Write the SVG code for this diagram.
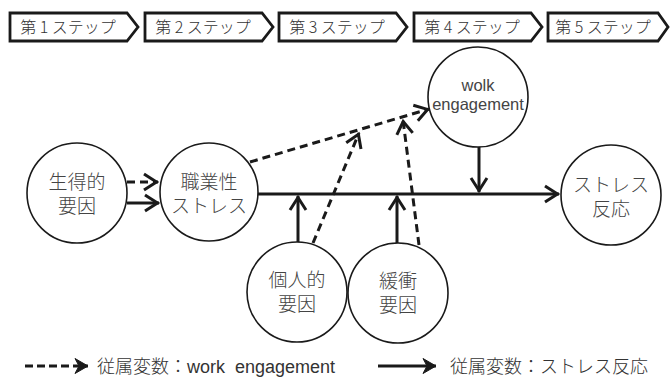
<svg xmlns="http://www.w3.org/2000/svg" width="670" height="381" viewBox="0 0 670 381">
<style>
.step{fill:#fff;stroke:#1a1a1a;stroke-width:2.8;stroke-linejoin:miter}
.stxt{font-family:"Noto Sans CJK JP","Liberation Sans",sans-serif;font-size:16px;font-weight:300;fill:#333;text-anchor:middle}
.node{fill:#fff;stroke:#1a1a1a;stroke-width:1.6}
.ntxt{font-family:"Noto Sans CJK JP","Liberation Sans",sans-serif;font-size:19px;font-weight:300;fill:#444;text-anchor:middle}
.etxt{font-family:"Liberation Sans","Noto Sans",sans-serif;font-size:16.5px;fill:#444;text-anchor:middle}
.solid{fill:none;stroke:#1a1a1a;stroke-width:3}
.dash{fill:none;stroke:#1a1a1a;stroke-width:3;stroke-dasharray:8 5}
.ltxt{font-family:"Noto Sans CJK JP","Liberation Sans",sans-serif;font-size:18px;font-weight:300;fill:#333}
.lat{font-family:"Liberation Sans","Noto Sans",sans-serif}
</style>
<defs>
<marker id="chev" markerUnits="userSpaceOnUse" markerWidth="20" markerHeight="20" viewBox="-16 -10 20 20" refX="0" refY="0" orient="auto">
<path d="M-14,-8 L-1.5,0 L-14,8" fill="none" stroke="#1a1a1a" stroke-width="3" stroke-linejoin="miter"/>
</marker>
<marker id="tri" markerUnits="userSpaceOnUse" markerWidth="20" markerHeight="20" viewBox="-16 -10 20 20" refX="0" refY="0" orient="auto">
<path d="M0,0 L-13,-7.5 L-9,0 L-13,7.5 Z" fill="#1a1a1a" stroke="#1a1a1a" stroke-width="1"/>
</marker>
</defs>

<g id="step1"><polygon class="step" points="10,13 127,13 138,27 127,41 10,41"/><text class="stxt" x="68" y="33">第 1 ステップ</text></g>
<g id="step2"><polygon class="step" points="145,13 262,13 273,27 262,41 145,41"/><text class="stxt" x="203" y="33">第 2 ステップ</text></g>
<g id="step3"><polygon class="step" points="279,13 396,13 407,27 396,41 279,41"/><text class="stxt" x="337" y="33">第 3 ステップ</text></g>
<g id="step4"><polygon class="step" points="414,13 531,13 542,27 531,41 414,41"/><text class="stxt" x="472" y="33">第 4 ステップ</text></g>
<g id="step5"><polygon class="step" points="548,13 658,13 668,27 658,41 548,41"/><text class="stxt" x="603" y="33">第 5 ステップ</text></g>

<g id="connectors">
<line class="dash" x1="127" y1="182" x2="158" y2="182" marker-end="url(#chev)"/>
<line class="solid" x1="127" y1="203" x2="159" y2="203" marker-end="url(#chev)"/>
<line class="solid" x1="258" y1="194" x2="559" y2="194" marker-end="url(#chev)"/>
<line class="solid" x1="298" y1="242" x2="298" y2="196" marker-end="url(#chev)"/>
<line class="solid" x1="397" y1="243" x2="397" y2="196" marker-end="url(#chev)"/>
<line class="solid" x1="479" y1="146" x2="479" y2="192" marker-end="url(#chev)"/>
<line class="dash" x1="250" y1="162" x2="429" y2="109" marker-end="url(#chev)"/>
<line class="dash" x1="313" y1="243" x2="359" y2="133" marker-end="url(#chev)"/>
<line class="dash" x1="419" y1="245" x2="403" y2="120" marker-end="url(#chev)"/>
</g>

<g id="n-seitoku"><circle class="node" cx="77" cy="193" r="50"/><text class="ntxt" x="77" y="189">生得的</text><text class="ntxt" x="77" y="213">要因</text></g>
<g id="n-shokugyo"><circle class="node" cx="209" cy="192" r="49"/><text class="ntxt" x="209" y="189">職業性</text><text class="ntxt" x="209" y="213">ストレス</text></g>
<g id="n-wolk"><circle class="node" cx="478" cy="97" r="50"/><text class="etxt" x="478" y="91">wolk</text><text class="etxt" x="478" y="110">engagement</text></g>
<g id="n-stress"><circle class="node" cx="611" cy="195" r="50"/><text class="ntxt" x="611" y="192">ストレス</text><text class="ntxt" x="611" y="216">反応</text></g>
<g id="n-kojin"><circle class="node" cx="297" cy="292" r="50"/><text class="ntxt" x="297" y="287">個人的</text><text class="ntxt" x="297" y="311">要因</text></g>
<g id="n-kansho"><circle class="node" cx="398" cy="293" r="50"/><text class="ntxt" x="398" y="288">緩衝</text><text class="ntxt" x="398" y="312">要因</text></g>

<g id="legend">
<line class="dash" x1="25" y1="366" x2="88" y2="366" style="stroke-dasharray:8 4" marker-end="url(#tri)"/>
<text class="ltxt" x="97" y="372.5">従属変数：<tspan class="lat">work&#160; engagement</tspan></text>
<line class="solid" x1="378" y1="366" x2="436" y2="366" marker-end="url(#tri)"/>
<text class="ltxt" x="450" y="372.5">従属変数：ストレス反応</text>
</g>
</svg>
